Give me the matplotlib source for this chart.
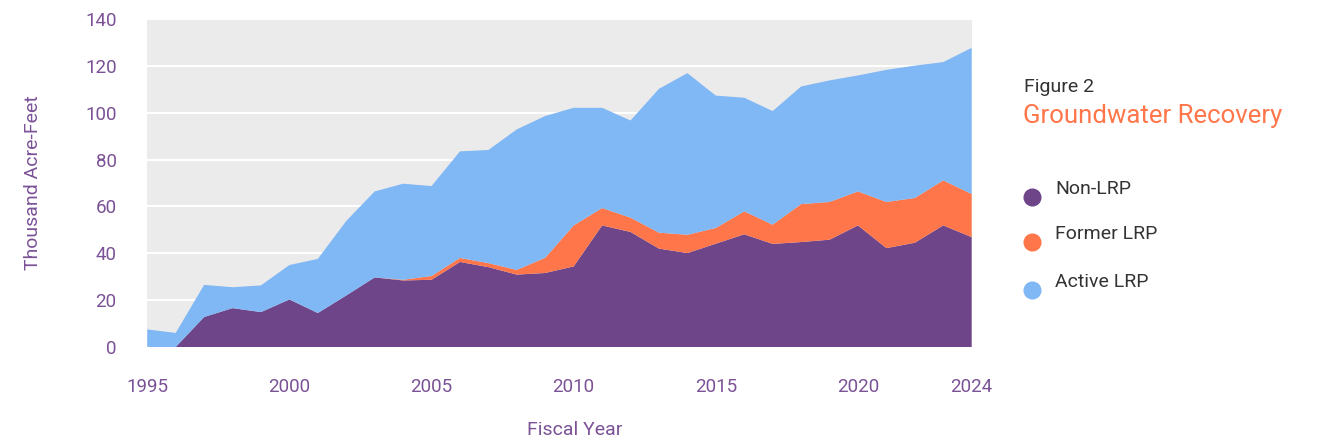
#!/usr/bin/env python3

import matplotlib
matplotlib.use("Agg")
import matplotlib.pyplot as plt
from matplotlib.lines import Line2D

# ---------------------------- Data ---------------------------- #

years = list(range(1995, 2025))

# Thousand acre-feet
non_lrp = [0.0, 0.0, 12.8, 16.6, 14.9, 20.3, 14.5, 22.0, 29.7, 28.4,
           28.7, 36.3, 34.1, 30.9, 31.6, 34.4, 51.9, 49.1, 42.0, 40.1,
           44.1, 48.1, 44.0, 44.8, 45.8, 51.9, 42.2, 44.5, 51.9, 46.9]
former_lrp = [0.0, 0.0, 0.0, 0.0, 0.0, 0.0, 0.0, 0.0, 0.0, 0.3,
              1.6, 1.7, 1.7, 2.0, 6.5, 17.5, 7.4, 6.1, 6.8, 7.8,
              6.7, 9.8, 8.2, 16.2, 16.1, 14.5, 19.7, 19.1, 19.2, 18.4]
active_lrp = [7.5, 6.0, 13.7, 8.9, 11.4, 14.7, 23.1, 31.8, 36.7, 41.0,
              38.4, 45.5, 48.3, 60.0, 60.5, 50.2, 42.8, 41.5, 61.4, 69.0,
              56.5, 48.5, 48.5, 50.2, 51.9, 49.5, 56.4, 56.5, 50.5, 62.4]

series_labels = ["Non-LRP", "Former LRP", "Active LRP"]
x_ticks = [1995, 2000, 2005, 2010, 2015, 2020, 2024]
y_ticks = [0, 20, 40, 60, 80, 100, 120, 140]

# ---------------------------- Style ---------------------------- #

PURPLE = "#6F458A"
ORANGE = "#FF764A"
BLUE = "#80B7F5"
BG = "#EBEBEB"
TICK_COLOR = "#7B5296"
TEXT_DARK = "#333333"

plt.rcParams["font.family"] = ["Roboto", "DejaVu Sans"]

# ---------------------------- Plot ---------------------------- #

fig = plt.figure(figsize=(13.22, 4.43), dpi=100)
ax = fig.add_axes([0.1114, 0.2167, 0.6236, 0.7404])
ax.set_facecolor(BG)

ax.stackplot(years, non_lrp, former_lrp, active_lrp,
             colors=[PURPLE, ORANGE, BLUE], linewidth=0, zorder=2)

ax.set_xlim(1995, 2024)
ax.set_ylim(0, 140)
ax.set_xticks(x_ticks)
ax.set_yticks(y_ticks)
ax.grid(axis="y", color="white", linewidth=1.5, zorder=1)
ax.set_axisbelow(True)
for spine in ax.spines.values():
    spine.set_visible(False)

ax.tick_params(axis="both", length=0, labelsize=13.5, labelcolor=TICK_COLOR)
ax.tick_params(axis="y", pad=22)
ax.tick_params(axis="x", pad=22)

ax.set_ylabel("Thousand Acre-Feet", fontsize=14, color=TICK_COLOR)
ax.set_xlabel("Fiscal Year", fontsize=14, color=TICK_COLOR)
ax.yaxis.set_label_coords(-0.139, 0.5)
ax.xaxis.set_label_coords(0.519, -0.253)
ax.yaxis.label.set_va("center")
ax.xaxis.label.set_va("center")

# Title block on the right
fig.text(1024 / 1322, 1 - 87 / 443, "Figure 2", fontsize=14,
         color=TEXT_DARK, va="center", ha="left")
fig.text(1023 / 1322, 1 - 116 / 443, "Groundwater Recovery", fontsize=18.5,
         color=ORANGE, va="center", ha="left")

# Hand-placed legend
legend_colors = [PURPLE, ORANGE, BLUE]
marker_y = [197, 242, 290]
label_y = [189, 234, 282]
for label, color, my, ly in zip(series_labels, legend_colors, marker_y, label_y):
    fig.add_artist(Line2D([1032 / 1322], [1 - my / 443], marker="o",
                          markersize=12, color=color, linestyle="none",
                          transform=fig.transFigure))
    fig.text(1055 / 1322, 1 - ly / 443, label, fontsize=14,
             color=TEXT_DARK, va="center", ha="left")

fig.savefig("out.png", dpi=100)
